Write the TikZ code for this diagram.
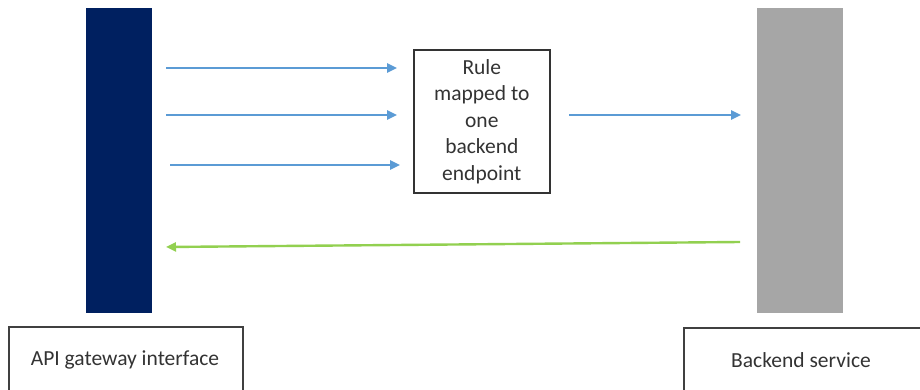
\documentclass[tikz,border=0pt]{standalone}
\usepackage{fontspec}
\setmainfont{Carlito}
\usetikzlibrary{arrows.meta}
\definecolor{navy}{HTML}{002060}
\definecolor{barGray}{HTML}{A6A6A6}
\definecolor{arrBlue}{HTML}{5B9BD5}
\definecolor{arrGreen}{HTML}{92D050}
\definecolor{txt}{HTML}{333333}
\tikzset{
  labelbox/.style={draw=black!75, line width=1.8pt, anchor=north west, inner sep=0pt},
  labeltext/.style={text=txt, font=\fontsize{21.5}{26}\selectfont},
  rulebox/.style={draw=black!80, line width=1.6pt, anchor=north west, inner sep=0pt, minimum width=136pt, minimum height=143pt, align=center, text=txt, font=\fontsize{21.5}{26.5}\selectfont},
  blueflow/.style={draw=arrBlue, line width=2.4pt, -{Triangle[length=10pt,width=9pt]}},
  greenflow/.style={draw=arrGreen, line width=2.4pt, -{Triangle[length=10pt,width=9pt]}}
}
\begin{document}
\begin{tikzpicture}[x=1pt,y=-1pt]
\useasboundingbox (0,0) rectangle (920,390);
\begin{scope}
\clip (0,0) rectangle (920,390);
% bars
\node[fill=navy, anchor=north west, inner sep=0pt, minimum width=66pt, minimum height=305pt] (gw) at (86,8) {};
\node[fill=barGray, anchor=north west, inner sep=0pt, minimum width=86pt, minimum height=305pt] (be) at (757,8) {};
% label boxes (extend below the picture)
\node[labelbox, minimum width=234pt, minimum height=90pt] (gwlabel) at (8,326) {};
\node[labeltext] (gwtext) at (125,360) {API gateway interface};
\node[labelbox, minimum width=260pt, minimum height=90pt] (belabel) at (683,327) {};
\node[labeltext] (betext) at (801,360) {Backend service};
\end{scope}
% rule box
\node[rulebox] (rule) at (413,49) {Rule\\mapped to\\one\\backend\\endpoint};
% arrow end coordinates
\coordinate (a1s) at (166,68);  \coordinate (a1e) at (397,68);
\coordinate (a2s) at (166,115); \coordinate (a2e) at (397,115);
\coordinate (a3s) at (170,165); \coordinate (a3e) at (400,165);
\coordinate (a4s) at (569,115); \coordinate (a4e) at (741,115);
\coordinate (g1s) at (740,242); \coordinate (g1e) at (166,247);
\draw[blueflow] (a1s) -- (a1e);
\draw[blueflow] (a2s) -- (a2e);
\draw[blueflow] (a3s) -- (a3e);
\draw[blueflow] (a4s) -- (a4e);
\draw[greenflow] (g1s) -- (g1e);
\end{tikzpicture}
\end{document}
